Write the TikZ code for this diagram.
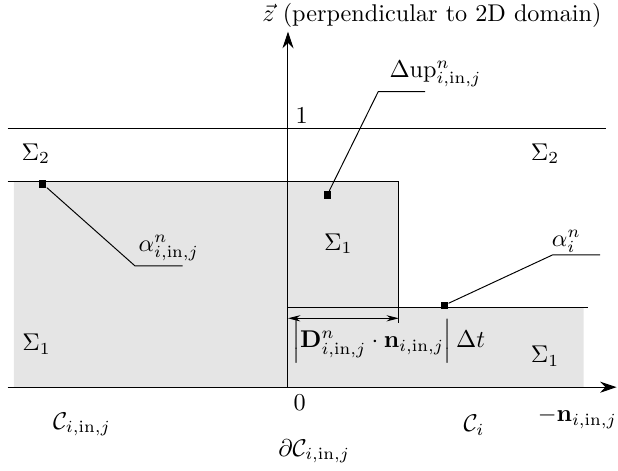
\documentclass[tikz,border=0pt]{standalone}
\usepackage{amsmath,amssymb}
\usepackage{xcolor}
\usepackage{tikz}
\usetikzlibrary{arrows.meta,positioning,calc}
\newcommand{\inj}{i,\mathrm{in},j}

\begin{document}
\begin{tikzpicture}[
  axis/.style={-{Stealth[length=2.4mm,width=1.6mm]}},
  dimarr/.style={{Stealth[length=1.8mm,width=0.9mm]}-{Stealth[length=1.8mm,width=0.9mm]}},
  region/.style={fill=gray!20, draw=none},
  pin/.style={rectangle, fill=black, inner sep=0pt, minimum size=3pt},
  lead/.style={thin},
  lbl/.style={font=\normalsize, inner sep=1pt},
]
\useasboundingbox (-4.18,-1.21) rectangle (4.79,5.62);
% shaded phase 1
\fill[region] (-3.98,0) -- (-3.98,2.98) -- (1.61,2.98) -- (1.61,1.15) -- (4.29,1.15) -- (4.29,0) -- cycle;
\coordinate (o) at (0,0);
\coordinate (xl) at (-4.07,0);
\coordinate (xr) at (4.77,0);
\coordinate (zt) at (0,5.16);
\draw[axis] (xl) -- (xr);
\draw[axis] (o) -- (zt);
% levels
\coordinate (t1) at (-4.07,3.76);
\coordinate (t2) at (4.61,3.76);
\draw (t1) -- (t2);
\coordinate (u1) at (-4.07,2.98);
\coordinate (u2) at (1.61,2.98);
\coordinate (u3) at (1.61,0.93);
\draw (u1) -- (u2) -- (u3);
\coordinate (l1) at (0,1.15);
\coordinate (l2) at (4.36,1.15);
\draw (l1) -- (l2);
\coordinate (d1) at (0,1.00);
\coordinate (d2) at (1.61,1.00);
\draw[dimarr] (d1) -- (d2);
% labels
\node[lbl] (ztxt) at (2.09,5.39) {$\vec{z}$ (perpendicular to 2D domain)};
\node[lbl] (one) at (0.20,3.94) {$1$};
\node[lbl] (zero) at (0.17,-0.22) {$0$};
\node[lbl] (cinj) at (-2.99,-0.54) {$\mathcal{C}_{\inj}$};
\node[lbl] (ci) at (2.70,-0.55) {$\mathcal{C}_{i}$};
\node[lbl] (nvec) at (4.20,-0.45) {$-\mathbf{n}_{\inj}$};
\node[lbl] (dc) at (0.38,-0.93) {$\partial\mathcal{C}_{\inj}$};
\node[lbl] (s2l) at (-3.66,3.39) {$\Sigma_2$};
\node[lbl] (s2r) at (3.73,3.39) {$\Sigma_2$};
\node[lbl] (s1l) at (-3.65,0.62) {$\Sigma_1$};
\node[lbl] (s1m) at (0.73,2.08) {$\Sigma_1$};
\node[lbl] (s1r) at (3.73,0.45) {$\Sigma_1$};
\node[lbl] (dist) at (1.46,0.66) {$\Big|\mathbf{D}^n_{\inj}\cdot\mathbf{n}_{\inj}\Big|\,\Delta t$};
% leaders
\node[pin] (pup) at (0.57,2.79) {};
\coordinate (bup) at (1.31,4.29);
\coordinate (eup) at (1.99,4.29);
\draw[lead] (pup) -- (bup) -- (eup);
\node[lbl] (up) at (2.14,4.55) {$\Delta\mathrm{up}^n_{\inj}$};
\node[pin] (pain) at (-3.56,2.95) {};
\coordinate (bain) at (-2.22,1.76);
\coordinate (eain) at (-1.53,1.76);
\draw[lead] (pain) -- (bain) -- (eain);
\node[lbl] (ain) at (-1.73,2.02) {$\alpha^n_{\inj}$};
\node[pin] (pai) at (2.27,1.19) {};
\coordinate (bai) at (3.84,1.92);
\coordinate (eai) at (4.53,1.92);
\draw[lead] (pai) -- (bai) -- (eai);
\node[lbl] (ai) at (4.04,2.12) {$\alpha^n_{i}$};
\end{tikzpicture}
\end{document}
